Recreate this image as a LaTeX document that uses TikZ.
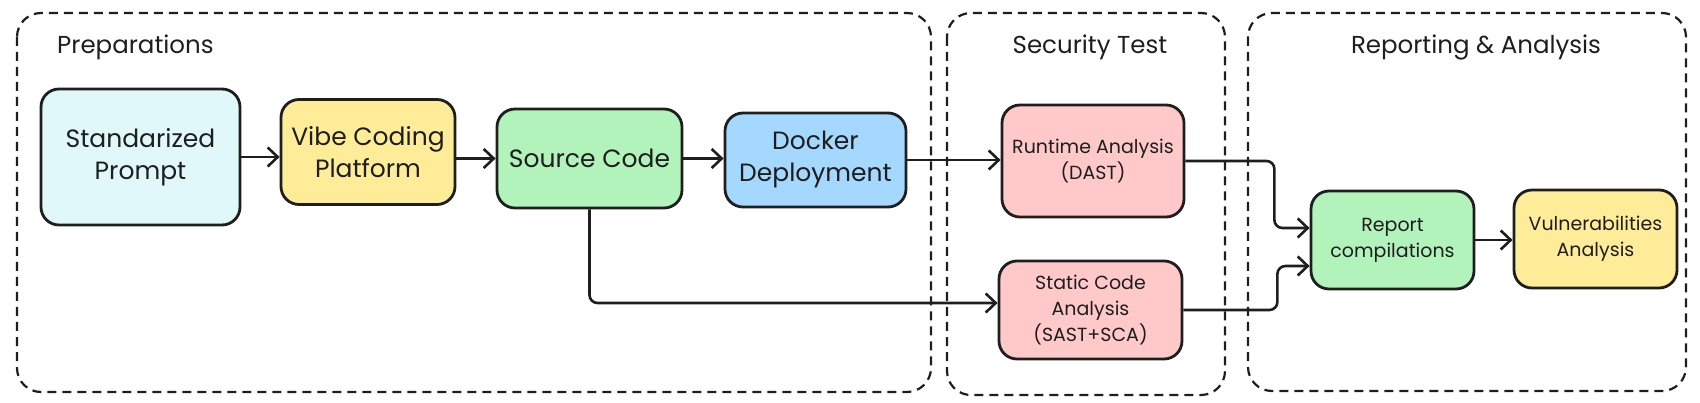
\documentclass[tikz,border=0pt]{standalone}
\usepackage{fontspec}
\setmainfont{Poppins}
\usepackage{xcolor}
\usepackage{tikz}
\usetikzlibrary{arrows.meta,positioning}
\definecolor{inkline}{HTML}{1E1E1E}
\definecolor{cyanfill}{HTML}{E0F8FA}
\definecolor{yellowfill}{HTML}{FFEC99}
\definecolor{greenfill}{HTML}{B2F2BB}
\definecolor{bluefill}{HTML}{A5D8FF}
\definecolor{redfill}{HTML}{FFC9C9}
\tikzset{
    every node/.style={font=\fontsize{25}{32}\selectfont, text=inkline},
    stagebox/.style={draw=inkline, line width=2.8pt, rounded corners=18pt, align=center, inner sep=0pt},
    smalltext/.style={font=\fontsize{19}{26}\selectfont},
    grouptitle/.style={font=\fontsize{24.5}{30}\selectfont},
    groupbox/.style={draw=inkline, line width=2.2pt, dash pattern=on 9pt off 6pt, rounded corners=24pt},
    flow/.style={draw=inkline, line width=2.6pt, -{Straight Barb[length=10pt,width=19pt]}, rounded corners=8pt}
}

\begin{document}
\begin{tikzpicture}[x=1pt,y=-1pt]
    \useasboundingbox (0,0) rectangle (1700,403);

    % Draw the dashed stage groups
    \draw[groupbox] (17,13) rectangle (931,392);
    \draw[groupbox] (947,13) rectangle (1225,395);
    \draw[groupbox] (1248,13) rectangle (1686,391);
    \node[grouptitle, anchor=west, inner sep=0pt] (prepLabel) at (57,47) {Preparations};
    \node[grouptitle] (secLabel) at (1090,47) {Security Test};
    \node[grouptitle] (repLabel) at (1476,47) {Reporting \& Analysis};

    % Draw the steps
    \node[stagebox, fill=cyanfill, minimum width=199pt, minimum height=136pt] (std) at (140.5,157) {Standarized\\Prompt};
    \node[stagebox, fill=yellowfill, minimum width=174pt, minimum height=105pt] (vibe) at (368,152) {Vibe Coding\\Platform};
    \node[stagebox, fill=greenfill, minimum width=185pt, minimum height=99pt] (src) at (589.5,158.5) {Source Code};
    \node[stagebox, fill=bluefill, minimum width=181pt, minimum height=94pt] (dock) at (815.5,160) {Docker\\Deployment};
    \node[stagebox, smalltext, fill=redfill, minimum width=182pt, minimum height=112pt] (run) at (1093,161) {Runtime Analysis\\(DAST)};
    \node[stagebox, smalltext, fill=redfill, minimum width=183pt, minimum height=98pt] (stat) at (1090.5,310) {Static Code\\Analysis\\(SAST+SCA)};
    \node[stagebox, smalltext, fill=greenfill, minimum width=163pt, minimum height=98pt] (report) at (1392.5,240) {Report\\compilations};
    \node[stagebox, smalltext, fill=yellowfill, minimum width=163pt, minimum height=98pt] (vuln) at (1595.5,239) {Vulnerabilities\\Analysis};

    % Draw the connectors
    \draw[flow] (std.east) -- (std.east -| vibe.west);
    \draw[flow] (src.west -| vibe.east) -- (src.west);
    \draw[flow] (src.east) -- (src.east -| dock.west);
    \draw[flow] (dock.east) -- (dock.east -| run.west);
    \draw[flow] (src.south) |- ([yshift=7pt]stat.west);
    \draw[flow] (run.east) -- ++(89,0) |- ([yshift=12pt]report.west);
    \draw[flow] (stat.east) -- ++(94,0) |- ([yshift=-26pt]report.west);
    \draw[flow] (report.east) -- (report.east -| vuln.west);
\end{tikzpicture}
\end{document}
